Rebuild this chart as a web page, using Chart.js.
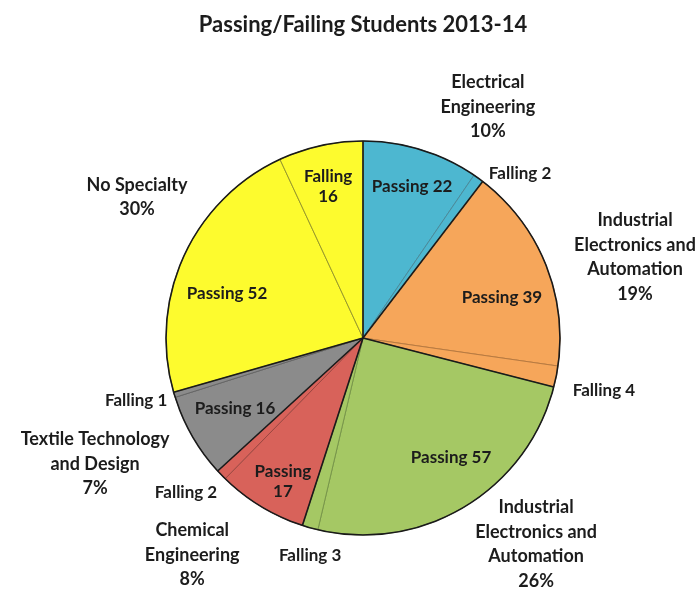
<!DOCTYPE html>
<html>
<head>
<meta charset="utf-8">
<script src="https://cdn.jsdelivr.net/npm/chart.js@4"></script>
<style>
  body { margin: 0; background: #fff; }
  #wrap { width: 697px; height: 590px; }
</style>
</head>
<body>
<div id="wrap"><canvas id="pie" width="697" height="590"></canvas></div>
<script>
// Chart data
const groups = ['Electrical Engineering', 'Industrial Electronics and Automation', 'Industrial Electronics and Automation',
                'Chemical Engineering', 'Textile Technology and Design', 'No Specialty'];
const passing = [22, 39, 57, 17, 16, 52];
const failing = [2, 4, 3, 2, 1, 16];
const groupPercent = ['10%', '19%', '26%', '8%', '7%', '30%'];

// Styles
const groupColors = ['#4db7d0', '#f6a65a', '#a5c864', '#d8625a', '#8b8b8b', '#fdfb2e'];
const innerLineColors = ['#4a8a9a', '#b87a40', '#78964a', '#9c4640', '#666666', '#9a9a2a'];
const FONT = 'Lato';

// interleave passing / failing so each group reads Passing then Failing clockwise
const sliceValues = [];
const sliceNames = [];
const sliceColors = [];
const sliceBorders = [];
groups.forEach((g, i) => {
    sliceValues.push(passing[i], failing[i]);
    sliceNames.push(g + ' - Passing', g + ' - Failing');
    sliceColors.push(groupColors[i], groupColors[i]);
    sliceBorders.push(innerLineColors[i], innerLineColors[i]);
});

// label placement: angle in degrees clockwise from 12 o'clock, radius as fraction of pie radius
const sliceLabelPos = {
    0: { ang: 18.0, r: 0.806, inside: true },
    1: { ang: 43.6, r: 1.156 },
    2: { ang: 73.9, r: 0.734, inside: true },
    3: { ang: 102.2, r: 1.251 },
    4: { ang: 143.7, r: 0.755, inside: true },
    5: { ang: 193.7, r: 1.134 },
    6: { ang: 209.1, r: 0.836, inside: true, split: true },
    7: { ang: 228.8, r: 1.194 },
    8: { ang: 241.0, r: 0.743, inside: true },
    9: { ang: 254.7, r: 1.194 },
    10: { ang: 288.3, r: 0.727, inside: true },
    11: { ang: 347.0, r: 0.787, inside: true, split: true }
};
const groupLabelPos = [
    { ang: 28.4, r: 1.333, lines: ['Electrical', 'Engineering'] },
    { ang: 73.5, r: 1.440, lines: ['Industrial', 'Electronics and', 'Automation'] },
    { ang: 140.0, r: 1.367, lines: ['Industrial', 'Electronics and', 'Automation'] },
    { ang: 218.2, r: 1.402, lines: ['Chemical', 'Engineering'] },
    { ang: 244.8, r: 1.503, lines: ['Textile Technology', 'and Design'] },
    { ang: 301.9, r: 1.351, lines: ['No Specialty'] }
];

function drawBlock(ctx, lines, x, y, lh) {
    const top = y - (lines.length - 1) * lh / 2;
    lines.forEach((t, k) => ctx.fillText(t, x, top + k * lh));
}

const pieLabels = {
    id: 'pieLabels',
    afterDatasetsDraw(chart) {
        const ctx = chart.ctx;
        const arcs = chart.getDatasetMeta(0).data;
        const cx = arcs[0].x, cy = arcs[0].y, R = arcs[0].outerRadius;
        const pt = (deg, f) => {
            const a = (deg - 90) * Math.PI / 180;
            return [cx + Math.cos(a) * R * f, cy + Math.sin(a) * R * f];
        };
        ctx.save();
        // black dividers between groups (a thin tinted line stays between passing / failing)
        ctx.strokeStyle = '#1a1a1a';
        ctx.lineWidth = 1.6;
        for (let i = 0; i < arcs.length; i += 2) {
            const a = arcs[i].startAngle;
            ctx.beginPath();
            ctx.moveTo(cx, cy);
            ctx.lineTo(cx + Math.cos(a) * R, cy + Math.sin(a) * R);
            ctx.stroke();
        }
        ctx.beginPath();
        ctx.arc(cx, cy, R, 0, Math.PI * 2);
        ctx.stroke();

        ctx.fillStyle = '#1c1c1c';
        ctx.textAlign = 'center';
        ctx.textBaseline = 'middle';
        // slice labels
        ctx.font = 'bold 17px ' + FONT;
        sliceValues.forEach((v, i) => {
            const p = sliceLabelPos[i];
            const word = i % 2 === 0 ? 'Passing' : 'Falling';
            const [x, y] = pt(p.ang, p.r);
            if (p.inside) {
                drawBlock(ctx, p.split ? [word, String(v)] : [word + ' ' + v], x, y, 20);
            } else {
                drawBlock(ctx, [word + ' ' + v], x, y, 24);
            }
        });
        // group labels with share
        ctx.font = 'bold 18px ' + FONT;
        groupLabelPos.forEach((g, i) => {
            const [x, y] = pt(g.ang, g.r);
            drawBlock(ctx, g.lines.concat([groupPercent[i]]), x, y, 24.5);
        });
        ctx.restore();
    }
};

new Chart(document.getElementById('pie'), {
    type: 'pie',
    data: {
        labels: sliceNames,
        datasets: [{
            data: sliceValues,
            backgroundColor: sliceColors,
            borderColor: sliceBorders,
            borderWidth: 1
        }]
    },
    options: {
        responsive: false,
        animation: false,
        layout: { padding: { left: 165.5, right: 136.5, top: 0, bottom: 54.5 } },
        plugins: {
            legend: { display: false },
            tooltip: { enabled: false },
            title: {
                display: true,
                text: 'Passing/Failing Students 2013-14',
                color: '#1c1c1c',
                font: { family: FONT, size: 22, weight: 'bold', lineHeight: 1.2 },
                padding: { top: 11.8, bottom: 102.3 }
            }
        }
    },
    plugins: [pieLabels]
});
</script>
</body>
</html>
